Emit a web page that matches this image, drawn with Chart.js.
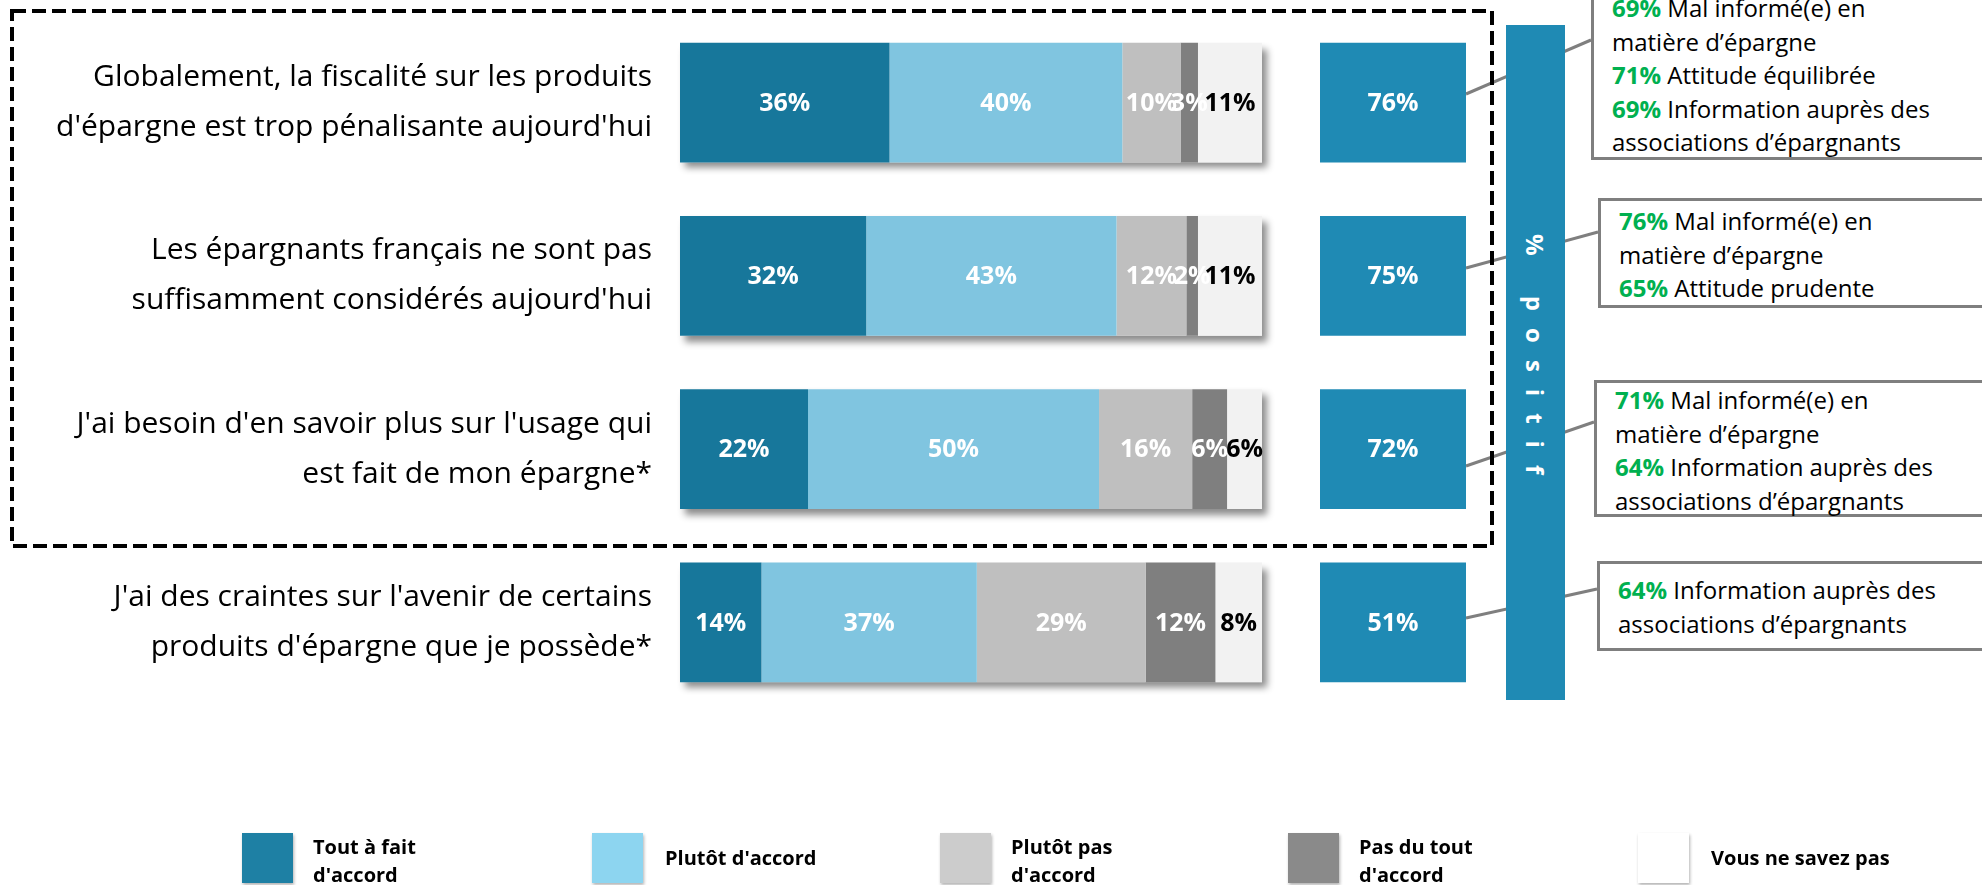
<!DOCTYPE html>
<html>
<head>
<meta charset="utf-8">
<script src="https://cdn.jsdelivr.net/npm/chart.js@4.4.0/dist/chart.umd.min.js"></script>
<style>
  body { margin: 0; width: 1982px; height: 885px; overflow: hidden; background: #fff; position: relative; font-family: "Open Sans", sans-serif; }
  canvas { position: absolute; top: 0; }
  #bars { left: 0; }
  #pos { left: 1320px; }
  svg { position: absolute; left: 0; top: 0; }
  .vbar { position: absolute; left: 1506px; top: 25px; width: 59px; height: 675px; background: #1f8ab4; }
  .vtext { position: absolute; left: 1506px; top: 234px; width: 59px; line-height: 59px; writing-mode: vertical-rl; color: #fff; font-weight: bold; font-size: 24px; letter-spacing: 17px; white-space: pre; }
  .note { position: absolute; box-sizing: border-box; width: 500px; border: 3px solid #7f7f7f; background: #fff; padding-left: 18px; font-size: 24px; line-height: 33.5px; color: #000; }
  .note b { color: #00b050; }
  .leg { position: absolute; top: 833px; width: 51px; height: 50px; box-shadow: 1px 2px 3px rgba(0,0,0,0.3); }
  .legt { position: absolute; font-weight: bold; font-size: 20px; line-height: 28px; color: #000; }
</style>
</head>
<body>
<svg width="1982" height="885" id="lines"></svg>
<canvas id="bars" width="1280" height="720"></canvas>
<canvas id="pos" width="146" height="720"></canvas>
<div class="vbar"></div>
<div class="vtext">% positif</div>
<svg width="1982" height="885" id="frame">
  <rect x="12" y="11" width="1480" height="535" fill="none" stroke="#000" stroke-width="4" stroke-dasharray="14 6"/>
</svg>
<div id="notes"></div>
<div id="legend"></div>

<script>
var questions = [
  ["Globalement, la fiscalité sur les produits", "d'épargne est trop pénalisante aujourd'hui"],
  ["Les épargnants français ne sont pas", "suffisamment considérés aujourd'hui"],
  ["J'ai besoin d'en savoir plus sur l'usage qui", "est fait de mon épargne*"],
  ["J'ai des craintes sur l'avenir de certains", "produits d'épargne que je possède*"]
];
var seriesNames = ["Tout à fait d'accord", "Plutôt d'accord", "Plutôt pas d'accord", "Pas du tout d'accord", "Vous ne savez pas"];
var toutAFait = [36, 32, 22, 14];
var plutotAccord = [40, 43, 50, 37];
var plutotPas = [10, 12, 16, 29];
var pasDuTout = [3, 2, 6, 12];
var neSavezPas = [11, 11, 6, 8];
var positif = [76, 75, 72, 51];

var details = [
  [["69%", "Mal informé(e) en", "matière d’épargne"], ["71%", "Attitude équilibrée"], ["69%", "Information auprès des", "associations d’épargnants"]],
  [["76%", "Mal informé(e) en", "matière d’épargne"], ["65%", "Attitude prudente"]],
  [["71%", "Mal informé(e) en", "matière d’épargne"], ["64%", "Information auprès des", "associations d’épargnants"]],
  [["64%", "Information auprès des", "associations d’épargnants"]]
];

var barColors = ["#17779b", "#80c5e0", "#bfbfbf", "#7f7f7f", "#f2f2f2"];
var textColors = ["#fff", "#fff", "#fff", "#fff", "#000"];
var legendColors = ["#1e80a4", "#8dd5f0", "#cccccc", "#8a8a8a", "#ffffff"];
var legendLines = [["Tout à fait", "d'accord"], ["Plutôt d'accord"], ["Plutôt pas", "d'accord"], ["Pas du tout", "d'accord"], ["Vous ne savez pas"]];

// box shadow behind each full bar
var shadowPlugin = {
  id: "barShadow",
  beforeDatasetsDraw: function (chart) {
    var ctx = chart.ctx;
    var xs = chart.scales.x;
    var meta = chart.getDatasetMeta(0);
    ctx.save();
    ctx.shadowColor = "rgba(0,0,0,0.45)";
    ctx.shadowBlur = 7;
    ctx.shadowOffsetX = 5;
    ctx.shadowOffsetY = 6;
    ctx.fillStyle = "#fff";
    meta.data.forEach(function (bar, j) {
      var total = 0;
      chart.data.datasets.forEach(function (ds) { total += ds.data[j]; });
      var x0 = xs.getPixelForValue(0), x1 = xs.getPixelForValue(total);
      ctx.fillRect(x0, bar.y - bar.height / 2, x1 - x0, bar.height);
    });
    ctx.restore();
  }
};

var labelPlugin = {
  id: "segLabels",
  afterDatasetsDraw: function (chart) {
    var ctx = chart.ctx;
    ctx.save();
    ctx.font = "bold 25px 'Open Sans'";
    ctx.textAlign = "center";
    ctx.textBaseline = "middle";
    chart.data.datasets.forEach(function (ds, i) {
      chart.getDatasetMeta(i).data.forEach(function (bar, j) {
        var p = bar.getProps(["x", "base", "y"], true);
        var txt = ds.labels ? ds.labels[j] : ds.data[j];
        ctx.fillStyle = ds.labelColor;
        ctx.fillText(txt + "%", (p.x + p.base) / 2, p.y + 1);
      });
    });
    ctx.restore();
  }
};

var series = [toutAFait, plutotAccord, plutotPas, pasDuTout, neSavezPas];
var datasets = series.map(function (d, i) {
  return {
    label: seriesNames[i],
    data: d,
    backgroundColor: barColors[i],
    labelColor: textColors[i],
    barPercentage: 0.69,
    categoryPercentage: 1
  };
});

new Chart(document.getElementById("bars"), {
  type: "bar",
  data: { labels: questions, datasets: datasets },
  options: {
    indexAxis: "y",
    responsive: false,
    animation: false,
    layout: { padding: { top: 16, bottom: 11, right: 18 } },
    plugins: { legend: { display: false }, tooltip: { enabled: false } },
    scales: {
      x: { stacked: true, min: 0, max: 100, display: false },
      y: {
        stacked: true,
        grid: { display: false, drawTicks: false },
        border: { display: false },
        ticks: { color: "#000", padding: 28, font: { family: "Open Sans", size: 30, lineHeight: 1.67 } },
        afterFit: function (s) { s.width = 680; s.paddingTop = 0; s.paddingBottom = 0; }
      }
    }
  },
  plugins: [shadowPlugin, labelPlugin]
});

// % positif boxes
new Chart(document.getElementById("pos"), {
  type: "bar",
  data: {
    labels: questions,
    datasets: [{
      label: "% positif",
      data: positif.map(function () { return 1; }),
      labels: positif,
      backgroundColor: "#1f8ab4",
      labelColor: "#fff",
      barPercentage: 0.69,
      categoryPercentage: 1
    }]
  },
  options: {
    indexAxis: "y",
    responsive: false,
    animation: false,
    layout: { padding: { top: 16, bottom: 11 } },
    plugins: { legend: { display: false }, tooltip: { enabled: false } },
    scales: { x: { min: 0, max: 1, display: false }, y: { display: false } }
  },
  plugins: [labelPlugin]
});

// connector lines
var connectors = [[1466, 94, 1591, 40], [1466, 268, 1598, 232], [1466, 466, 1594, 422], [1466, 618, 1597, 589]];
var svg = document.getElementById("lines");
connectors.forEach(function (c) {
  var l = document.createElementNS("http://www.w3.org/2000/svg", "line");
  l.setAttribute("x1", c[0]); l.setAttribute("y1", c[1]);
  l.setAttribute("x2", c[2]); l.setAttribute("y2", c[3]);
  l.setAttribute("stroke", "#7f7f7f"); l.setAttribute("stroke-width", "3");
  svg.appendChild(l);
});

// annotation boxes
var noteBoxes = [
  { left: 1591, top: -14, height: 174, pad: 2 },
  { left: 1598, top: 198, height: 110, pad: 3 },
  { left: 1594, top: 380, height: 137, pad: 0 },
  { left: 1597, top: 561, height: 90, pad: 9 }
];
var notes = document.getElementById("notes");
details.forEach(function (items, i) {
  var b = noteBoxes[i];
  var div = document.createElement("div");
  div.className = "note";
  div.style.left = b.left + "px";
  div.style.top = b.top + "px";
  div.style.height = b.height + "px";
  div.style.paddingTop = b.pad + "px";
  var html = [];
  items.forEach(function (it) {
    html.push("<b>" + it[0] + "</b> " + it.slice(1).join("<br>"));
  });
  div.innerHTML = html.join("<br>");
  notes.appendChild(div);
});

// legend
var legendX = [242, 592, 940, 1288, 1638];
var legend = document.getElementById("legend");
seriesNames.forEach(function (name, i) {
  var sw = document.createElement("div");
  sw.className = "leg";
  sw.style.left = legendX[i] + "px";
  sw.style.background = legendColors[i];
  legend.appendChild(sw);
  var t = document.createElement("div");
  t.className = "legt";
  var lines = legendLines[i];
  t.style.left = (legendX[i] + (lines.length > 1 ? 71 : 73)) + "px";
  t.style.top = (lines.length > 1 ? 833 : 844) + "px";
  t.innerHTML = lines.join("<br>");
  legend.appendChild(t);
});
</script>
</body>
</html>
